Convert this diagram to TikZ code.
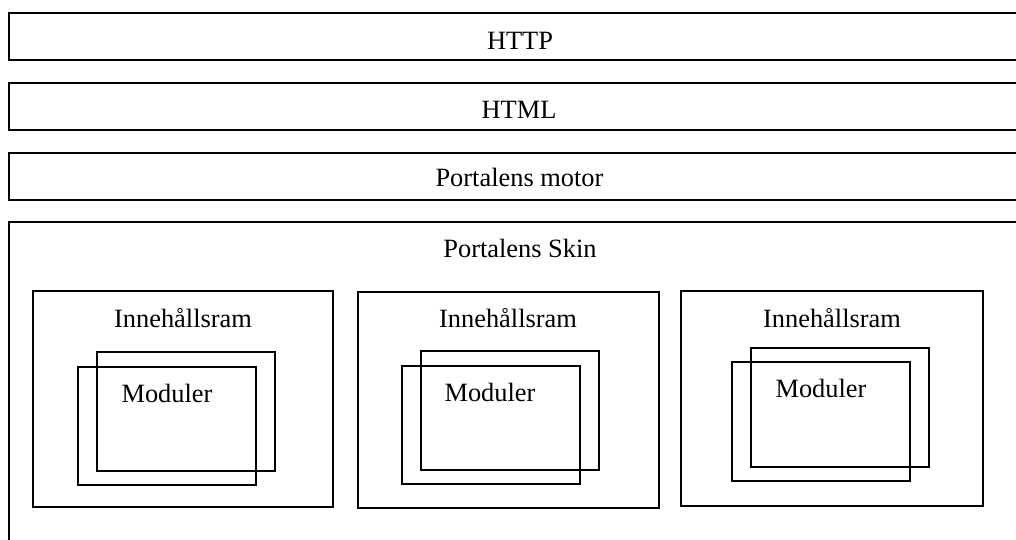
\documentclass[tikz,border=0pt]{standalone}
\usepackage{fontspec}
\setmainfont{Liberation Serif}

\begin{document}
\begin{tikzpicture}[x=0.75pt, y=-0.75pt, line width=1.1pt,
  txt/.style={anchor=base, font=\fontsize{19.8}{24}\selectfont}]
\clip (0,0) rectangle (1016,539);

% Layers
\draw (9,13) rectangle (1031,60);
\node[txt] (http) at (520,49) {HTTP};
\draw (9,83) rectangle (1031,130);
\node[txt] (html) at (519,118) {HTML};
\draw (9,153) rectangle (1031,200);
\node[txt] (motor) at (519.5,186) {Portalens motor};

% Skin
\draw (9,222) rectangle (1031,570);
\node[txt] (skin) at (520,257) {Portalens Skin};

% Content frame A
\draw (33,291) rectangle (333,507);
\node[txt] (ramA) at (183,327) {Innehållsram};
\draw (97,352) rectangle (275,471);
\draw (78,367) rectangle (256,485);
\node[txt] (modA) at (167,402) {Moduler};

% Content frame B
\draw (358,292) rectangle (659,508);
\node[txt] (ramB) at (508,327) {Innehållsram};
\draw (421,351) rectangle (599,470);
\draw (402,366) rectangle (580,484);
\node[txt] (modB) at (490,401) {Moduler};

% Content frame C
\draw (681,291) rectangle (983,506);
\node[txt] (ramC) at (832,327) {Innehållsram};
\draw (751,348) rectangle (929,467);
\draw (732,362) rectangle (910,481);
\node[txt] (modC) at (821,397) {Moduler};
\end{tikzpicture}
\end{document}
